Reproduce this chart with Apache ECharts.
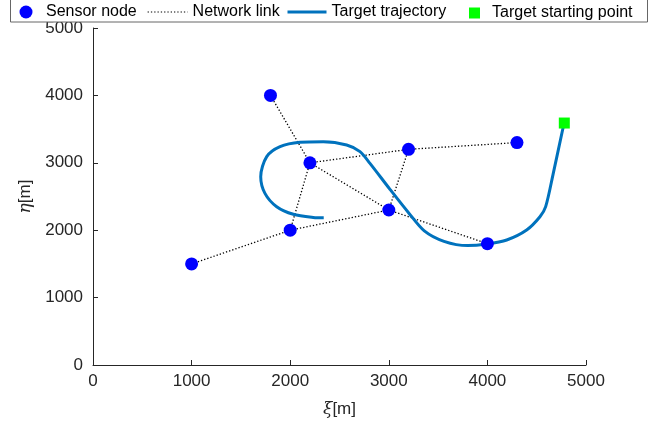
<!DOCTYPE html>
<html>
<head>
<meta charset="utf-8">
<script src="https://cdn.jsdelivr.net/npm/echarts@6/dist/echarts.min.js"></script>
<style>html,body{margin:0;padding:0;background:#fff}#c{width:665px;height:430px}</style>
</head>
<body>
<div id="c"></div>
<script>
// ---- data ----
const nodeX = [1000, 1800, 2000, 2200, 3000, 3200, 4000, 4300];
const nodeY = [1500, 4000, 2000, 3000, 2300, 3200, 1800, 3300];
const linkFrom = [0, 1, 2, 2, 3, 3, 4, 4, 5];
const linkTo   = [2, 3, 3, 4, 4, 5, 5, 6, 7];
const trajX = [4780, 4764, 4668, 4591, 4533, 4398, 4196, 3993, 3800, 3560, 3360, 3200, 3010, 2809, 2708, 2573, 2336, 2099, 1897, 1762, 1701, 1744, 1863, 2032, 2234, 2340];
const trajY = [3590, 3497, 2844, 2349, 2200, 2003, 1855, 1795, 1772, 1835, 1990, 2260, 2610, 2992, 3165, 3264, 3313, 3304, 3239, 3091, 2794, 2547, 2349, 2236, 2190, 2185];
const startX = [4780];
const startY = [3590];
const xTicks = [0, 1000, 2000, 3000, 4000, 5000];
const yTicks = [0, 1000, 2000, 3000, 4000, 5000];
const names = ['Sensor node', 'Network link', 'Target trajectory', 'Target starting point'];

const FONT = 'Liberation Sans, Arial, Helvetica, sans-serif';
const AX = '#262626';

const series = [];
for (let k = 0; k < linkFrom.length; k++) {
  series.push({
    name: names[1], type: 'line', symbol: 'none', z: 2,
    data: [[nodeX[linkFrom[k]], nodeY[linkFrom[k]]], [nodeX[linkTo[k]], nodeY[linkTo[k]]]],
    lineStyle: { color: '#000', width: 1.3, type: [1.3, 2] },
    itemStyle: { color: '#000' },
    silent: true
  });
}
series.push({
  name: names[2], type: 'line', symbol: 'none', smooth: 0.3, z: 3,
  data: trajX.map((x, i) => [x, trajY[i]]),
  lineStyle: { color: '#0072BD', width: 3 },
  itemStyle: { color: '#0072BD' }
});
series.push({
  name: names[0], type: 'scatter', symbol: 'circle', symbolSize: 13, z: 4,
  data: nodeX.map((x, i) => [x, nodeY[i]]),
  itemStyle: { color: '#0000ff', opacity: 1 }
});
series.push({
  name: names[3], type: 'scatter', symbol: 'rect', symbolSize: 11, z: 5,
  data: startX.map((x, i) => [x, startY[i]]),
  itemStyle: { color: '#00ff00', opacity: 1 }
});

const legendBase = { top: 4, itemHeight: 13, textStyle: { fontFamily: FONT, fontSize: 16, color: '#000' }, selectedMode: false, padding: 0, z: 6 };
const fmt = v => String(v);
const chart = echarts.init(document.getElementById('c'), null, { renderer: 'canvas' });
chart.setOption({
  animation: false,
  backgroundColor: '#fff',
  grid: { left: 93, right: 79, top: 28, bottom: 65 },
  legend: [
    Object.assign({}, legendBase, { left: 19.5, itemWidth: 30, data: [{ name: names[0], icon: 'circle' }] }),
    Object.assign({}, legendBase, { left: 147, itemWidth: 40, itemStyle: { opacity: 0 }, lineStyle: { width: 1.2 }, data: [names[1]] }),
    Object.assign({}, legendBase, { left: 286, itemWidth: 39, itemStyle: { opacity: 0 }, lineStyle: { width: 3 }, data: [names[2]] }),
    Object.assign({}, legendBase, { left: 469, itemWidth: 25, itemHeight: 11, top: 5, data: [{ name: names[3], icon: 'path://M0,0h10v10h-10z' }] })
  ],
  graphic: [{
    type: 'rect', z: 5, shape: { x: 10.5, y: -10, width: 637, height: 32 },
    style: { fill: '#fff', stroke: '#666', lineWidth: 1 }
  }],
  xAxis: {
    type: 'value', min: xTicks[0], max: xTicks[xTicks.length - 1], interval: 1000,
    name: '{i|ξ}[m]', nameLocation: 'middle', nameGap: 36,
    nameTextStyle: { fontFamily: FONT, fontSize: 17, color: AX, rich: { i: { fontFamily: 'DejaVu Serif', fontStyle: 'italic', fontSize: 17, color: AX } } },
    axisLine: { lineStyle: { color: AX, width: 1 } },
    axisTick: { inside: true, length: 5, lineStyle: { color: AX } },
    axisLabel: { fontFamily: FONT, fontSize: 17, color: AX, margin: 8, formatter: fmt },
    splitLine: { show: false }
  },
  yAxis: {
    type: 'value', min: yTicks[0], max: yTicks[yTicks.length - 1], interval: 1000,
    name: '{i|η}[m]', nameLocation: 'middle', nameGap: 44, nameRotate: 90,
    nameTextStyle: { fontFamily: FONT, fontSize: 17, color: AX, rich: { i: { fontFamily: 'DejaVu Serif', fontStyle: 'italic', fontSize: 17, color: AX } } },
    axisLine: { show: true, lineStyle: { color: AX, width: 1 } },
    axisTick: { show: true, inside: true, length: 5, lineStyle: { color: AX } },
    axisLabel: { fontFamily: FONT, fontSize: 17, color: AX, margin: 10, formatter: fmt },
    splitLine: { show: false }
  },
  series: series
});
</script>
</body>
</html>
